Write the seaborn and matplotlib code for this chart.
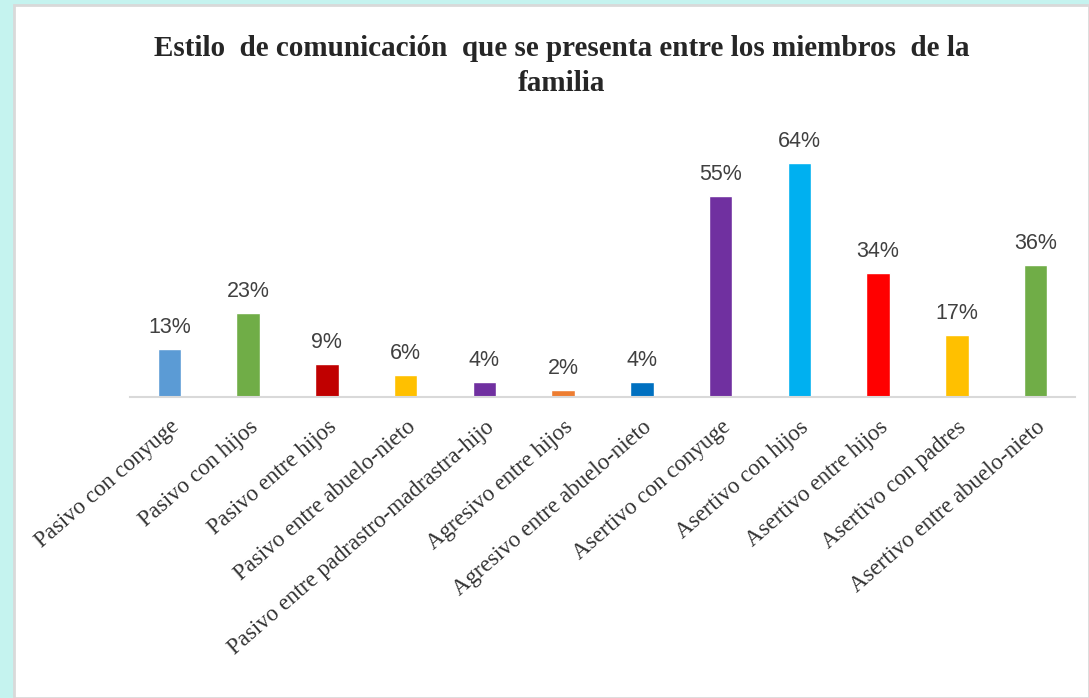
import matplotlib.pyplot as plt
import seaborn as sns
import pandas as pd
from matplotlib.patches import Rectangle

categories = [
    "Pasivo con conyuge",
    "Pasivo con hijos",
    "Pasivo entre hijos",
    "Pasivo entre abuelo-nieto",
    "Pasivo entre padrastro-madrastra-hijo",
    "Agresivo entre hijos",
    "Agresivo entre abuelo-nieto",
    "Asertivo con conyuge",
    "Asertivo con hijos",
    "Asertivo entre hijos",
    "Asertivo con padres",
    "Asertivo entre abuelo-nieto",
]
values = [13, 23, 9, 6, 4, 2, 4, 55, 64, 34, 17, 36]
colors = [
    "#5b9bd5", "#70ad47", "#c00000", "#ffc000", "#7030a0", "#ed7d31",
    "#0070c0", "#7030a0", "#00b0f0", "#ff0000", "#ffc000", "#70ad47",
]

df = pd.DataFrame({"estilo": categories, "pct": values})

sns.set_style("white")

fig = plt.figure(figsize=(10.89, 6.98), dpi=100)
fig.patch.set_facecolor("#c5f3ef")

# white chart panel with thin gray edge
panel = Rectangle((14 / 1089, 0), 1 - 14 / 1089, 1 - 5 / 698,
                  transform=fig.transFigure, facecolor="white",
                  edgecolor="#d9d9d9", linewidth=2, zorder=-5)
fig.patches.append(panel)

ax = fig.add_axes([130 / 1089, 1 - 397 / 698, 945 / 1089, 256 / 698])
ax.set_facecolor("none")

sns.barplot(
    data=df,
    x="estilo",
    y="pct",
    hue="estilo",
    palette=colors,
    saturation=1,
    legend=False,
    width=0.3,
    ax=ax
)

ax.set_ylim(0, 70)
ax.set_xlim(-0.5, len(categories) - 0.5)

for i, v in enumerate(values):
    ax.annotate(f"{v}%", (i, v), xytext=(0, 8), textcoords="offset points",
                ha="center", va="bottom", fontsize=15.5,
                family="Liberation Sans", color="#404040")

ax.set_xticks(range(len(categories)))
ax.set_xticklabels(categories, rotation=41, ha="right",
                   rotation_mode="anchor", family="Liberation Serif",
                   fontsize=16.5, color="#333333")
ax.tick_params(axis="x", length=0, pad=14)
ax.set_yticks([])
ax.set_xlabel("")
ax.set_ylabel("")

for side in ["top", "right", "left"]:
    ax.spines[side].set_visible(False)
ax.spines["bottom"].set_color("#d9d9d9")
ax.spines["bottom"].set_linewidth(1.5)

fig.text(0.516, 1 - 66 / 698,
         "Estilo  de comunicación  que se presenta entre los miembros  de la\nfamilia",
         ha="center", va="center", fontsize=21, fontweight="bold",
         family="Liberation Serif", color="#262626", linespacing=1.4)

fig.savefig("out.png", dpi=100)
